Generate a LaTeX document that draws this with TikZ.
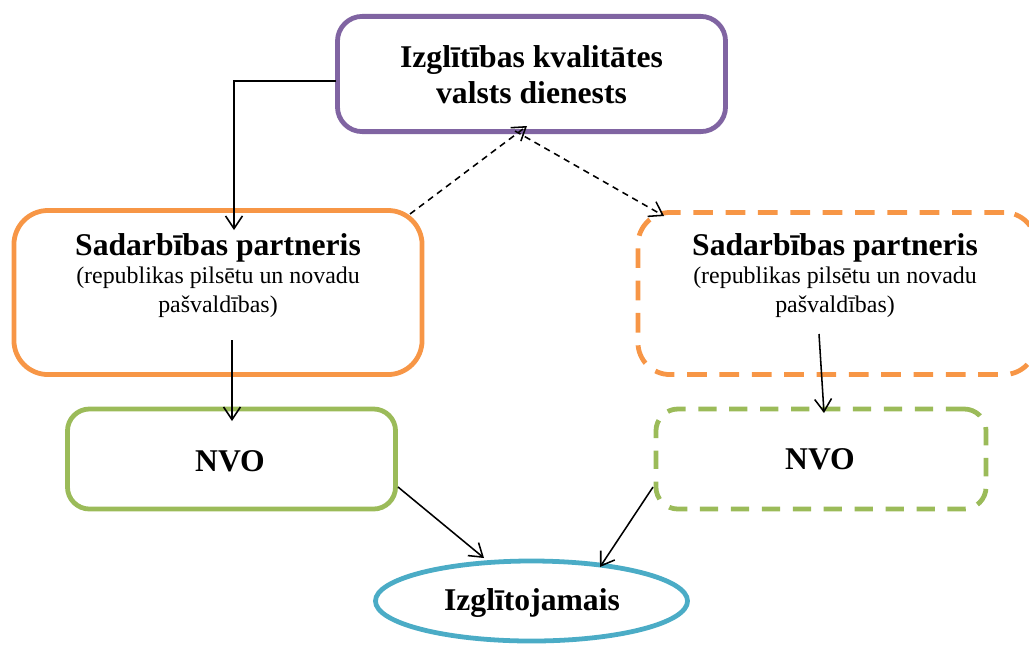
\documentclass[tikz,border=0pt]{standalone}
\usepackage{fontspec}
\setmainfont{Liberation Serif}
\usepackage{xcolor}
\usetikzlibrary{arrows.meta,shapes.geometric,positioning}
\definecolor{ikvdlila}{HTML}{8064A2}
\definecolor{partnoranz}{HTML}{F79646}
\definecolor{nvozals}{HTML}{9BBB59}
\definecolor{izglzils}{HTML}{4BACC6}

\begin{document}
\begin{tikzpicture}[x=0.025cm,y=-0.025cm,
    box/.style={draw,line width=3.4pt,inner sep=0pt},
    dashbox/.style={box,dash pattern=on 14pt off 9pt},
    title/.style={font=\fontsize{22.5}{25.6}\selectfont\bfseries,align=center,anchor=base},
    sub/.style={font=\fontsize{17}{20.6}\selectfont,align=center,anchor=base},
    arr/.style={line width=1.1pt,-{Straight Barb[length=9pt,width=12pt]}},
    darr/.style={arr,dash pattern=on 4.5pt off 3.5pt}]
\useasboundingbox (0,0) rectangle (1029,646);
% kastes
\node[box,draw=ikvdlila,rounded corners=0.62cm,minimum width=9.7cm,minimum height=2.88cm] (ikvd) at (531.5,74) {};
\node[box,draw=partnoranz,rounded corners=0.85cm,minimum width=10.2cm,minimum height=4.1cm] (lpart) at (218,292.5) {};
\node[dashbox,draw=partnoranz,rounded corners=0.8cm,minimum width=9.95cm,minimum height=4.05cm] (rpart) at (837,293.5) {};
\node[box,draw=nvozals,rounded corners=0.55cm,minimum width=8.2cm,minimum height=2.5cm] (lnvo) at (231.5,459) {};
\node[dashbox,draw=nvozals,rounded corners=0.55cm,minimum width=8.25cm,minimum height=2.5cm,dash pattern=on 13pt off 9pt] (rnvo) at (821,459) {};
\node[box,draw=izglzils,ellipse,minimum width=7.8cm,minimum height=2.0cm] (izgl) at (531.5,601) {};
% teksti (base = pedejas rindas bazes linija)
\node[title] (ikvdtxt) at (531.5,103) {Izglītības kvalitātes\\valsts dienests};
\node[title] (lparttxt) at (218,255) {Sadarbības partneris};
\node[sub] (lpartsub) at (218,312) {(republikas pilsētu un novadu\\pašvaldības)};
\node[title] (rparttxt) at (835,255) {Sadarbības partneris};
\node[sub] (rpartsub) at (835,312) {(republikas pilsētu un novadu\\pašvaldības)};
\node[title] (lnvotxt) at (230,471) {NVO};
\node[title] (rnvotxt) at (820,469) {NVO};
\node[title] (izgltxt) at (532,610) {Izglītojamais};
% bultu gali
\coordinate (ikvdout) at (336,81);
\coordinate (lpartin) at (234,230);
\coordinate (lpartup) at (410,214);
\coordinate (ikvdin) at (527,126);
\coordinate (ikvddown) at (515,131);
\coordinate (rpartin) at (664,216);
\coordinate (lpartout) at (232,340);
\coordinate (lnvoin) at (232,421);
\coordinate (rpartout) at (819,334);
\coordinate (rnvoin) at (824,413);
\coordinate (lnvoout) at (398,487);
\coordinate (izglinl) at (484,558);
\coordinate (rnvoout) at (653,487);
\coordinate (izglinr) at (600,567);
% bultas
\draw[arr] (ikvdout) -| (lpartin);
\draw[darr] (lpartup) -- (ikvdin);
\draw[darr] (ikvddown) -- (rpartin);
\draw[arr] (lpartout) -- (lnvoin);
\draw[arr] (rpartout) -- (rnvoin);
\draw[arr] (lnvoout) -- (izglinl);
\draw[arr] (rnvoout) -- (izglinr);
\end{tikzpicture}
\end{document}
